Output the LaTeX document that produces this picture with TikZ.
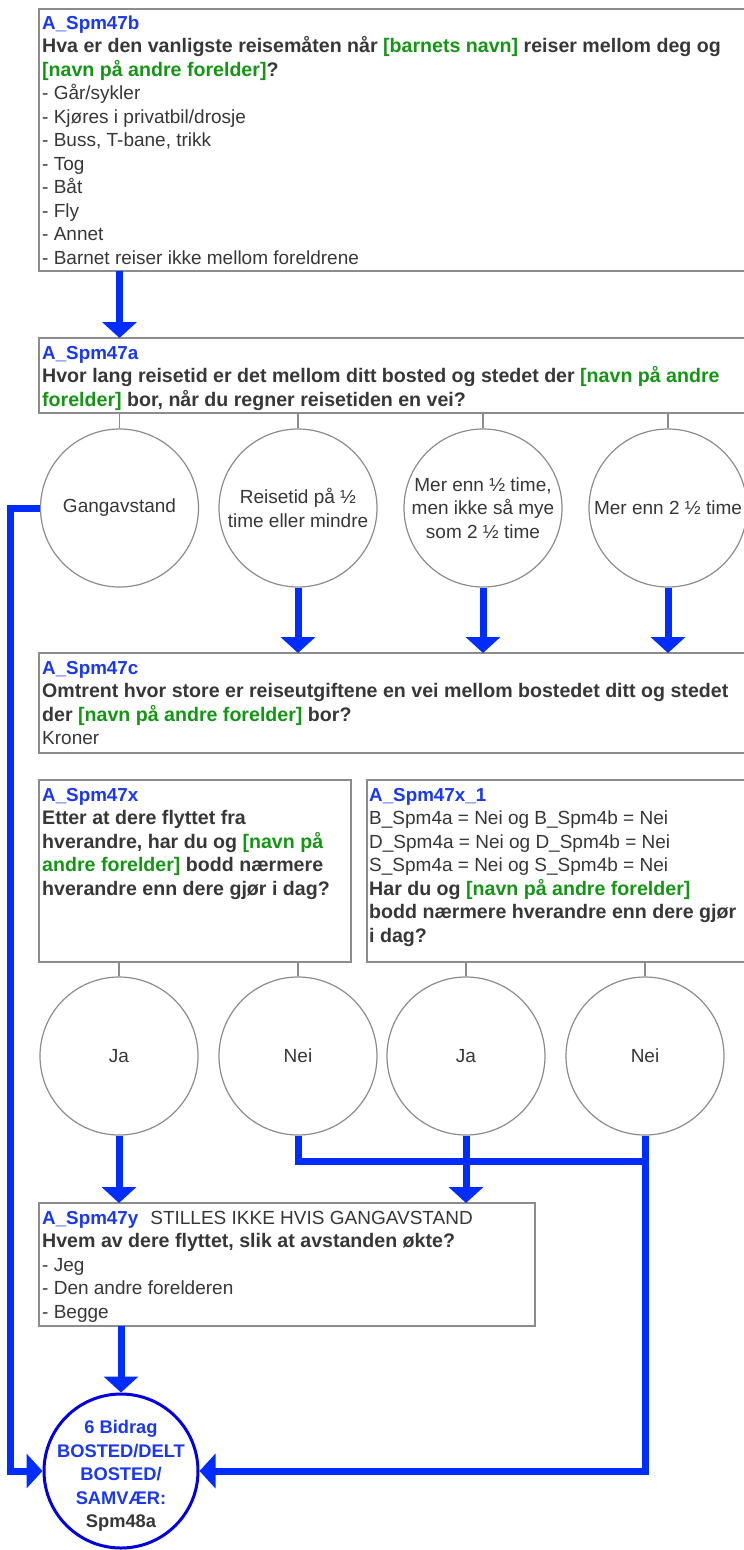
\documentclass[tikz,border=0pt]{standalone}
\usepackage{fontspec}
\setmainfont{Liberation Sans}
\usetikzlibrary{arrows.meta}
\definecolor{idblue}{RGB}{25,55,245}
\definecolor{arrblue}{RGB}{0,45,255}
\definecolor{finblue}{RGB}{0,0,225}
\definecolor{qgreen}{RGB}{20,150,20}
\definecolor{dark}{RGB}{55,55,55}
\definecolor{edge}{RGB}{140,140,140}
\newcommand\fsz{\fontsize{19}{23.5}\selectfont}
\newcommand\bt[1]{{\fontsize{19.6}{23.5}\selectfont\bfseries #1}}
\newcommand\idt[1]{\textcolor{idblue}{{\fontsize{18.8}{23.5}\selectfont\bfseries #1}}}
\newcommand\gr[1]{\textcolor{qgreen}{#1}}
\newcommand\fst{\rule{0pt}{17pt}}
\begin{document}
\begin{tikzpicture}[x=1pt,y=-1pt,
 box/.style={draw=edge,line width=1.5pt,anchor=north west,inner sep=0pt,outer sep=0pt},
 txt/.style={anchor=north west,inner sep=0pt,align=left,font=\fsz,text=dark},
 opt/.style={circle,draw=edge,line width=1.2pt,minimum size=158pt,inner sep=0pt,align=center,font=\fsz,text=dark},
 stem/.style={draw=edge,line width=1.2pt},
 flow/.style={draw=arrblue,line width=7pt},
 arr/.style={flow,-{Triangle[width=34pt,length=16pt]}},
]
\useasboundingbox (0,0) rectangle (744,1550);
\clip (0,0) rectangle (744,1550);
\fill[white] (0,0) rectangle (744,1550);

% boxes
\node[box,minimum width=721pt,minimum height=262pt] (b1) at (39,9) {};
\node[box,minimum width=721pt,minimum height=75pt] (b2) at (39,338) {};
\node[box,minimum width=721pt,minimum height=100pt] (b3) at (39,653) {};
\node[box,minimum width=312pt,minimum height=182pt] (b4) at (39,780) {};
\node[box,minimum width=393pt,minimum height=182pt] (b5) at (367,780) {};
\node[box,minimum width=496pt,minimum height=123pt] (b6) at (39,1203) {};

% texts
\node[txt] (t1) at (42,12) {\fst\idt{A\_Spm47b}\\
\bt{Hva er den vanligste reisemåten når \gr{[barnets navn]} reiser mellom deg og}\\
\bt{\gr{[navn på andre forelder]}?}\\
- Går/sykler\\
- Kjøres i privatbil/drosje\\
- Buss, T-bane, trikk\\
- Tog\\
- Båt\\
- Fly\\
- Annet\\
- Barnet reiser ikke mellom foreldrene};

\node[txt] (t2) at (42,342) {\fst\idt{A\_Spm47a}\\
\bt{Hvor lang reisetid er det mellom ditt bosted og stedet der \gr{[navn på andre}}\\
\bt{\gr{forelder]} bor, når du regner reisetiden en vei?}};

\node[txt] (t3) at (42,657) {\fst\idt{A\_Spm47c}\\
\bt{Omtrent hvor store er reiseutgiftene en vei mellom bostedet ditt og stedet}\\
\bt{der \gr{[navn på andre forelder]} bor?}\\
Kroner};

\node[txt] (t4) at (42,784) {\fst\idt{A\_Spm47x}\\
\bt{Etter at dere flyttet fra}\\
\bt{hverandre, har du og \gr{[navn på}}\\
\bt{\gr{andre forelder]} bodd nærmere}\\
\bt{hverandre enn dere gjør i dag?}};

\node[txt] (t5) at (369,784) {\fst\idt{A\_Spm47x\_1}\\
B\_Spm4a = Nei og B\_Spm4b = Nei\\
D\_Spm4a = Nei og D\_Spm4b = Nei\\
S\_Spm4a = Nei og S\_Spm4b = Nei\\
\bt{Har du og \gr{[navn på andre forelder]}}\\
\bt{bodd nærmere hverandre enn dere gjør}\\
\bt{i dag?}};

\node[txt] (t6) at (42,1207) {\fst\idt{A\_Spm47y}\hspace{12pt}STILLES IKKE HVIS GANGAVSTAND\\
\bt{Hvem av dere flyttet, slik at avstanden økte?}\\
- Jeg\\
- Den andre forelderen\\
- Begge};

% option circles row 1
\node[opt] (c1) at (119.5,508) {Gangavstand};
\node[opt] (c2) at (298,508) {Reisetid på ½\\time eller mindre};
\node[opt] (c3) at (483,508) {Mer enn ½ time,\\men ikke så mye\\som 2 ½ time};
\node[opt] (c4) at (668,508) {Mer enn 2 ½ time};

% option circles row 2
\node[opt] (d1) at (119,1056) {Ja};
\node[opt] (d2) at (298,1056) {Nei};
\node[opt] (d3) at (466,1056) {Ja};
\node[opt] (d4) at (645,1056) {Nei};

% final circle
\node[circle,draw=finblue,line width=3pt,minimum size=154pt,inner sep=0pt] (fin) at (121,1471) {};
\node[align=center,inner sep=0pt,font={\fontsize{18.3}{23.5}\selectfont\bfseries},text=idblue] (fintxt) at (121,1476)
  {6 Bidrag\\BOSTED/DELT\\BOSTED/\\SAMVÆR:\\\textcolor{dark}{Spm48a}};

% stems
\foreach \c in {c1,c2,c3,c4} \draw[stem] (\c.north) -- (\c.north |- b2.south);
\foreach \c in {d1,d2} \draw[stem] (\c.north) -- (\c.north |- b4.south);
\foreach \c in {d3,d4} \draw[stem] (\c.north) -- (\c.north |- b5.south);

% flow
\draw[arr] (c1 |- b1.south) -- (c1 |- b2.north);
\draw[arr] (c2.south) -- (c2.south |- b3.north);
\draw[arr] (c3.south) -- (c3.south |- b3.north);
\draw[arr] (c4.south) -- (c4.south |- b3.north);
\coordinate (lft) at (10.5,508);
\draw[arr] (c1.west) -- (lft) |- (fin.west);
\path (d4.south) ++(0,26) coordinate (j);
\draw[flow] (d2.south) |- (j);
\draw[arr] (d1.south) -- (d1.south |- b6.north);
\draw[arr] (d3.south) -- (d3.south |- b6.north);
\draw[arr] (d4.south) |- (fin.east);
\draw[arr] (fin.north |- b6.south) -- (fin.north);
\end{tikzpicture}
\end{document}
